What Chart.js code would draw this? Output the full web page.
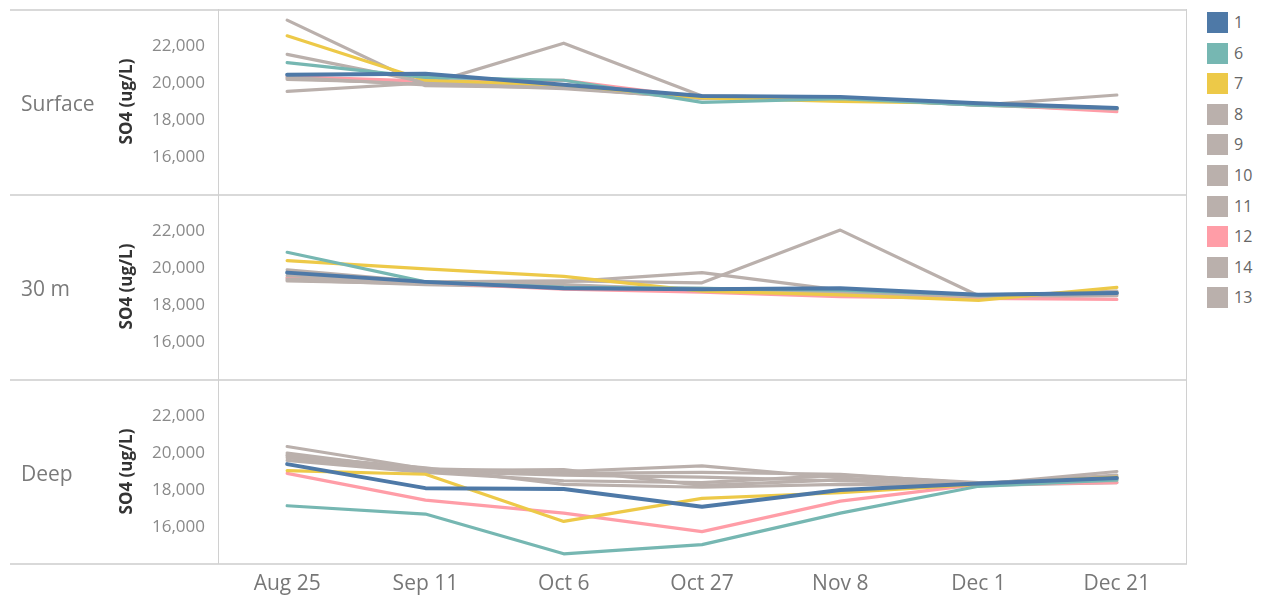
<!DOCTYPE html>
<html>
<head>
<meta charset="utf-8">
<script src="https://cdn.jsdelivr.net/npm/chart.js@4.4.1/dist/chart.umd.min.js"></script>
<style>
  html, body { margin: 0; padding: 0; background: #fff; }
  #wrap { position: relative; width: 1265px; height: 599px; overflow: hidden; font-family: "Open Sans", sans-serif; }
  #wrap canvas { position: absolute; left: 0; }
  .row-label { position: absolute; left: 21px; font-size: 21px; color: #7a7a7a; line-height: 1; transform: translateY(-50%); white-space: nowrap; }
  #legend { position: absolute; left: 1207px; top: 12px; }
  .item { height: 30.6px; display: flex; align-items: flex-start; }
  .sw { width: 21px; height: 21px; }
  .lbl { margin-left: 6px; font-size: 16px; color: #666; line-height: 21px; }
</style>
</head>
<body>
<div id="wrap"><div id="legend"></div></div>
<script>
// Sampling dates along the x axis
const dates = ['Aug 25', 'Sep 11', 'Oct 6', 'Oct 27', 'Nov 8', 'Dec 1', 'Dec 21'];
// Station ids, in legend order, and their line colours
const seriesNames = ['1', '6', '7', '8', '9', '10', '11', '12', '14', '13'];
const seriesColors = ['#4e79a7', '#76b7b2', '#edc948', '#bab0ac', '#bab0ac', '#bab0ac', '#bab0ac', '#ff9da7', '#bab0ac', '#bab0ac'];
// Depth rows
const depthLabels = ['Surface', '30 m', 'Deep'];
// Y axis (SO4, ug/L)
const yTickValues = [16000, 18000, 20000, 22000];
const yMin = 14000;
const yMax = 24000;

// SO4 per station (rows follow seriesNames), per date
const surfaceValues = [
  [20450, 20500, 19900, 19300, 19250, 18900, 18650], // 1
  [21100, 20300, 20150, 18950, 19150, 18800, 18650], // 6
  [22550, 20150, 19900, 19200, 19000, 18900, 18650], // 7
  [23400, 19850, 19750, 19200, 19150, 18850, 18600], // 8
  [21550, 20050, 19800, 19250, 19200, 18800, 19350], // 9
  [19550, 20000, 19750, 19150, 19150, 18800, 18600], // 10
  [20300, 19900, 22150, 19300, 19200, 18850, 18600], // 11
  [20350, 20100, 20150, 19200, 19200, 18850, 18450], // 12
  [20250, 19950, 19700, 19200, 19150, 18850, 18600], // 14
  [20200, 20000, 19800, 19250, 19200, 18800, 18550]  // 13
];
const midValues = [
  [19750, 19250, 18900, 18850, 18900, 18550, 18650], // 1
  [20850, 19250, 18950, 18900, 18800, 18550, 18650], // 6
  [20400, 19950, 19550, 18750, 18550, 18250, 18950], // 7
  [19300, 19150, 19250, 19750, 18800, 18450, 18700], // 8
  [19900, 19250, 19300, 19200, 22050, 18500, 18750], // 9
  [19400, 19200, 19100, 18800, 18700, 18450, 18600], // 10
  [19600, 19150, 19000, 18900, 18750, 18500, 18550], // 11
  [19450, 19200, 18850, 18700, 18450, 18350, 18300], // 12
  [19350, 19100, 18950, 18800, 18600, 18400, 18500], // 14
  [19500, 19200, 19000, 18850, 18700, 18450, 18650]  // 13
];
const deepValues = [
  [19400, 18100, 18050, 17100, 18000, 18350, 18650], // 1
  [17150, 16700, 14550, 15050, 16750, 18200, 18550], // 6
  [19050, 18850, 16300, 17550, 17850, 18300, 18700], // 7
  [20350, 19150, 19000, 19300, 18650, 18300, 19000], // 8
  [19900, 19100, 18900, 18950, 18850, 18350, 18800], // 9
  [19750, 19000, 18800, 18700, 18500, 18300, 18600], // 10
  [19600, 18950, 18500, 18400, 18800, 18400, 18500], // 11
  [18900, 17450, 16750, 15750, 17400, 18300, 18400], // 12
  [19850, 19200, 18300, 18150, 18300, 18250, 18400], // 14
  [20000, 19050, 19100, 18250, 18550, 18350, 18700]  // 13
];

const panelValues = [surfaceValues, midValues, deepValues];

// Layout of the trellis
const FONT = '"Open Sans", sans-serif';
const PANEL_TOP = [9, 194, 379];
const PANEL_H = 185;
const PLOT_LEFT = 218;
const PLOT_RIGHT = 1186;
const AXIS_LEFT = 110;
const X_AXIS_H = 35;
const FRAME_LEFT = 10;

const wrap = document.getElementById('wrap');

// Thin frame: row separators across the whole width, borders at each side of the plot
function framePlugin(isLast) {
  return {
    id: 'panelFrame',
    beforeDatasetsDraw(chart) {
      const { ctx, chartArea: a } = chart;
      ctx.save();
      ctx.strokeStyle = '#d9d9d9';
      ctx.lineWidth = 2;
      ctx.beginPath();
      ctx.moveTo(FRAME_LEFT, a.top + 1);
      ctx.lineTo(a.right + 1, a.top + 1);
      if (isLast) {
        ctx.moveTo(FRAME_LEFT, a.bottom);
        ctx.lineTo(a.right + 1, a.bottom);
      }
      ctx.stroke();
      ctx.strokeStyle = '#d0d0d0';
      ctx.lineWidth = 1;
      ctx.beginPath();
      ctx.moveTo(a.left + 0.5, a.top);
      ctx.lineTo(a.left + 0.5, a.bottom);
      ctx.moveTo(a.right + 0.5, a.top);
      ctx.lineTo(a.right + 0.5, a.bottom);
      ctx.stroke();
      ctx.restore();
    }
  };
}

function makePanel(idx) {
  const isLast = idx === panelValues.length - 1;
  const canvas = document.createElement('canvas');
  const h = PANEL_H + (isLast ? X_AXIS_H : 0);
  canvas.width = 1265;
  canvas.height = h;
  canvas.style.width = '1265px';
  canvas.style.height = h + 'px';
  canvas.style.top = PANEL_TOP[idx] + 'px';
  wrap.appendChild(canvas);

  const label = document.createElement('div');
  label.className = 'row-label';
  label.textContent = depthLabels[idx];
  label.style.top = (PANEL_TOP[idx] + PANEL_H / 2 + 1) + 'px';
  wrap.appendChild(label);

  const values = panelValues[idx];
  new Chart(canvas, {
    type: 'line',
    data: {
      labels: dates,
      datasets: seriesNames.map((name, s) => ({
        label: name,
        data: values[s],
        borderColor: seriesColors[s],
        backgroundColor: seriesColors[s],
        borderWidth: s === 0 ? 4 : 3.2,
        pointRadius: 0,
        pointHoverRadius: 0,
        tension: 0,
        borderJoinStyle: 'round',
        borderCapStyle: 'round',
        fill: false
      }))
    },
    options: {
      responsive: false,
      animation: false,
      devicePixelRatio: 1,
      events: [],
      layout: { padding: { left: AXIS_LEFT, right: 1265 - PLOT_RIGHT, top: 0, bottom: 0 } },
      plugins: { legend: { display: false }, tooltip: { enabled: false } },
      scales: {
        x: {
          type: 'category',
          offset: true,
          display: isLast,
          grid: { display: false, drawTicks: false },
          border: { display: false },
          ticks: { font: { family: FONT, size: 21 }, color: '#777', padding: 7, maxRotation: 0, autoSkip: false },
          afterFit(scale) {
            scale.height = isLast ? X_AXIS_H : 0;
            scale.paddingLeft = 0;
            scale.paddingRight = 0;
          }
        },
        y: {
          min: yMin,
          max: yMax,
          grid: { display: false, drawTicks: false },
          border: { display: false },
          afterBuildTicks(scale) { scale.ticks = yTickValues.map(v => ({ value: v })); },
          ticks: {
            font: { family: FONT, size: 17 },
            color: '#8a8a8a',
            padding: 13,
            callback: v => Number(v).toLocaleString('en-US')
          },
          title: {
            display: true,
            text: 'SO4 (ug/L)',
            font: { family: FONT, size: 17, weight: 'bold' },
            color: '#333',
            padding: { top: 7, bottom: 0 }
          },
          afterFit(scale) {
            scale.width = PLOT_LEFT - AXIS_LEFT;
            scale.paddingTop = 0;
            scale.paddingBottom = 0;
          }
        }
      }
    },
    plugins: [framePlugin(isLast)]
  });
}

panelValues.forEach((_, i) => makePanel(i));

// Colour legend
const legend = document.getElementById('legend');
seriesNames.forEach((name, s) => {
  const item = document.createElement('div');
  item.className = 'item';
  const sw = document.createElement('div');
  sw.className = 'sw';
  sw.style.background = seriesColors[s];
  const lbl = document.createElement('div');
  lbl.className = 'lbl';
  lbl.textContent = name;
  item.appendChild(sw);
  item.appendChild(lbl);
  legend.appendChild(item);
});
</script>
</body>
</html>
